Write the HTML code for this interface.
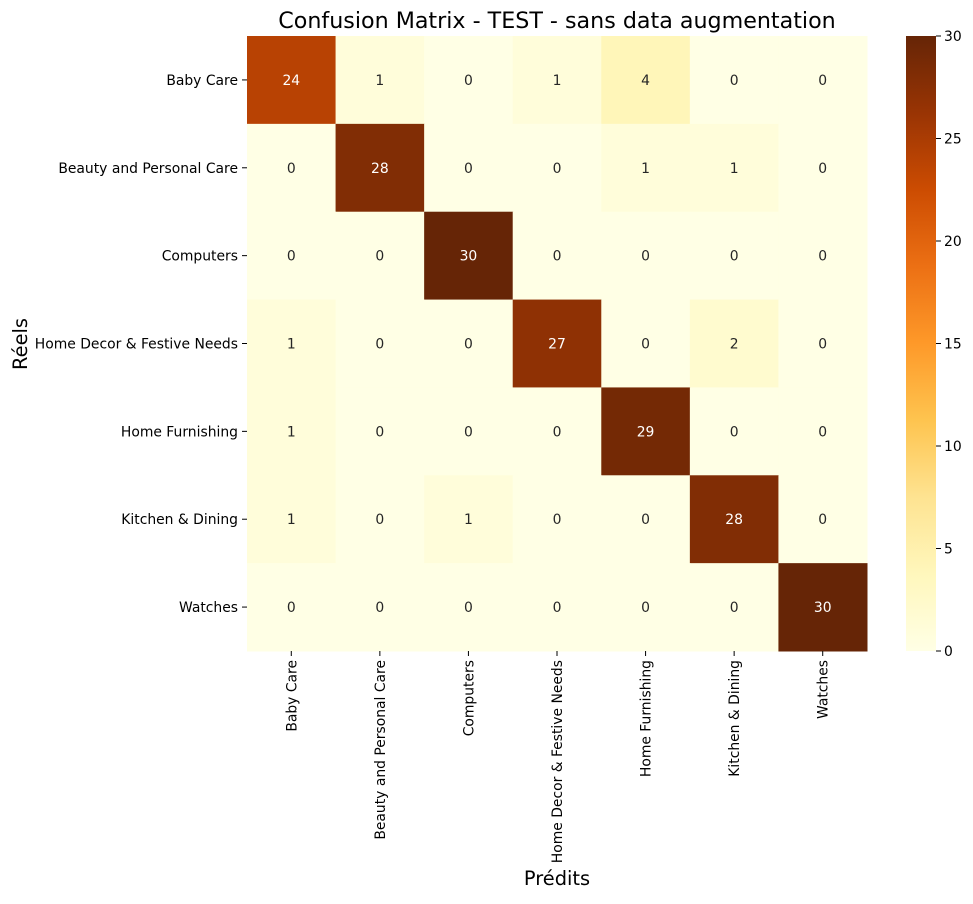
<!DOCTYPE html>
<html><head><meta charset="utf-8"><style>
body{margin:0;background:#fff;font-family:"Liberation Sans","DejaVu Sans",sans-serif}
</style></head><body>
<svg id="s" width="973" height="899" xmlns="http://www.w3.org/2000/svg" font-family="DejaVu Sans, Liberation Sans, sans-serif">
<defs><linearGradient id="cb" x1="0" y1="1" x2="0" y2="0">
<stop offset="0" stop-color="#ffffe5"/><stop offset="0.125" stop-color="#fff7bc"/><stop offset="0.25" stop-color="#fee391"/><stop offset="0.375" stop-color="#fec44f"/><stop offset="0.5" stop-color="#fe9929"/><stop offset="0.625" stop-color="#ec7014"/><stop offset="0.75" stop-color="#cc4c02"/><stop offset="0.875" stop-color="#993404"/><stop offset="1" stop-color="#662506"/></linearGradient></defs>
<text x="557" y="28" font-size="22.2" text-anchor="middle">Confusion Matrix - TEST - sans data augmentation</text>
<text x="557" y="885" font-size="19.4" text-anchor="middle">Prédits</text>
<text transform="translate(27,344) rotate(-90)" font-size="19.4" text-anchor="middle">Réels</text>
<g id="cells"></g><g id="ticks"></g>
<rect x="906" y="36" width="30" height="615" fill="url(#cb)"/>
<g id="cbt"></g>
</svg>
<script>
const categories=["Baby Care","Beauty and Personal Care","Computers","Home Decor & Festive Needs","Home Furnishing","Kitchen & Dining","Watches"];
const matrix=[[24,1,0,1,4,0,0],[0,28,0,0,1,1,0],[0,0,30,0,0,0,0],[1,0,0,27,0,2,0],[1,0,0,0,29,0,0],[1,0,1,0,0,28,0],[0,0,0,0,0,0,30]];
const cbTicks=[0,5,10,15,20,25,30];
const vmax=30;
const stops=["#ffffe5","#fff7bc","#fee391","#fec44f","#fe9929","#ec7014","#cc4c02","#993404","#662506"];
function hx(c){return [1,3,5].map(i=>parseInt(c.substr(i,2),16));}
function color(v){let t=Math.max(0,Math.min(1,v/vmax))*8;let i=Math.min(7,Math.floor(t));let f=t-i;let a=hx(stops[i]),b=hx(stops[i+1]);return "rgb("+a.map((x,k)=>Math.round(x+(b[k]-x)*f)).join(",")+")";}
const X0=247,Y0=36,W=620,H=615,n=categories.length,cw=W/n,ch=H/n;
const xs=j=>X0+j*cw, ys=i=>Y0+i*ch;
const NS="http://www.w3.org/2000/svg";
function mk(t,a,p){const e=document.createElementNS(NS,t);for(const k in a)e.setAttribute(k,a[k]);p.appendChild(e);return e;}
const g=document.getElementById('cells'),tk=document.getElementById('ticks');
matrix.forEach((row,i)=>row.forEach((v,j)=>{
 const r=mk('rect',{x:xs(j),y:ys(i),width:cw+0.5,height:ch+0.5,fill:color(v)},g);
 
 
 const t=mk('text',{x:xs(j)+cw/2,y:ys(i)+ch/2+5,'font-size':13.9,'text-anchor':'middle',fill:v>15?'#fff':'#262626'},g);
 t.textContent=v;
 
 
}));
categories.forEach((c,i)=>{
 mk('line',{x1:X0-5,x2:X0,y1:ys(i)+ch/2,y2:ys(i)+ch/2,stroke:'#000'},tk);
 const t=mk('text',{x:X0-9,y:ys(i)+ch/2+5,'font-size':13.9,'text-anchor':'end'},tk);t.textContent=c;
 
 
 const cx=xs(i)+cw/2;
 mk('line',{x1:cx,x2:cx,y1:Y0+H,y2:Y0+H+5,stroke:'#000'},tk);
 const u=mk('text',{transform:`translate(${cx+5},${Y0+H+9}) rotate(-90)`,'font-size':13.9,'text-anchor':'end'},tk);u.textContent=c;
 
 
});
const cb=document.getElementById('cbt');
cbTicks.forEach(v=>{const y=651-v/vmax*615;
 mk('line',{x1:936,x2:941,y1:y,y2:y,stroke:'#000'},cb);
 const t=mk('text',{x:944,y:y+5,'font-size':13.9},cb);t.textContent=v;
 
 
});
</script>
</body></html>
